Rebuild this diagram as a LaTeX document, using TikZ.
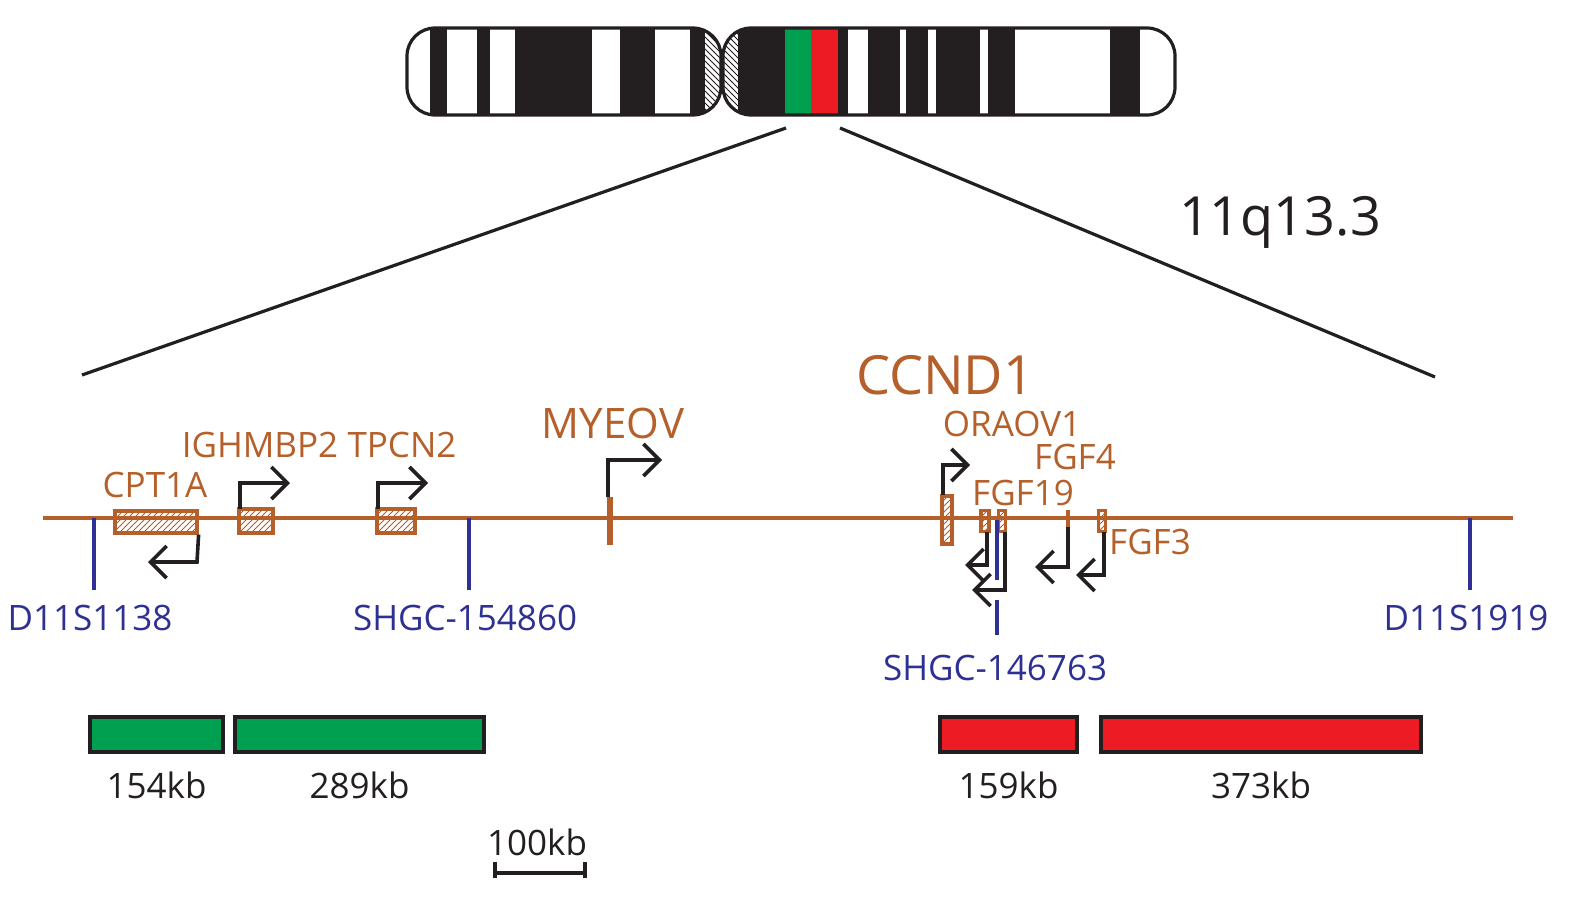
\documentclass[tikz,border=0pt]{standalone}
\usepackage{fontspec}
\setmainfont{Open Sans}
\usetikzlibrary{arrows.meta, patterns, positioning}
\definecolor{gene}{HTML}{B5602B}
\definecolor{marker}{HTML}{2E3192}
\definecolor{gbar}{HTML}{00A050}
\definecolor{rbar}{HTML}{ED1C24}
\definecolor{band}{HTML}{231F20}
\tikzset{
  glabel/.style={text=gene, font=\fontsize{17.5}{17.5}\selectfont, inner sep=0pt},
  mlabel/.style={text=marker, font=\fontsize{17.5}{17.5}\selectfont, inner sep=0pt},
  klabel/.style={text=band, font=\fontsize{17.5}{17.5}\selectfont, inner sep=0pt},
  gbox/.style={draw=gene, line width=1.6pt, pattern=north east lines, pattern color=gene},
  tss/.style={-{Straight Barb[length=8pt,width=16pt,line width=1.8pt]}, line width=1.8pt, draw=band},
  mline/.style={draw=marker, line width=1.8pt},
  seg/.style={draw=band, line width=1.6pt},
}
\begin{document}
\begin{tikzpicture}[x=0.5pt, y=-0.5pt]
  \useasboundingbox (0,0) rectangle (1589,904);

  %% chromosome 11
  \begin{scope}
    \clip[rounded corners=14pt] (407,28) rectangle (721,115);
    \fill[white] (407,28) rectangle (721,115);
    \foreach \a/\b in {430/447, 477/490, 515/592, 620/655, 690/705}
      \fill[band] (\a,28) rectangle (\b,115);
    \fill[pattern=north west lines, pattern color=band] (705,28) rectangle (721,115);
  \end{scope}
  \begin{scope}
    \clip[rounded corners=14pt] (723,28) rectangle (1175,115);
    \fill[white] (723,28) rectangle (1175,115);
    \foreach \a/\b in {738/785, 838/848, 868/900, 906/928, 936/980, 988/1015, 1110/1140}
      \fill[band] (\a,28) rectangle (\b,115);
    \fill[gbar] (785,28) rectangle (811,115);
    \fill[rbar] (811,28) rectangle (838,115);
    \fill[pattern=north west lines, pattern color=band] (723,28) rectangle (738,115);
  \end{scope}
  \draw[seg, rounded corners=14pt] (407,28) rectangle (721,115);
  \draw[seg, rounded corners=14pt] (723,28) rectangle (1175,115);

  %% zoom lines
  \coordinate (zl) at (786,128);
  \coordinate (zr) at (840,128);
  \coordinate (ll) at (82,375);
  \coordinate (lr) at (1435,377);
  \draw[seg] (zl) -- (ll);
  \draw[seg] (zr) -- (lr);
  \node[klabel, font=\fontsize{27}{27}\selectfont] (band) at (1280,222) {11q13.3};

  %% genomic line
  \coordinate (gs) at (43,518);
  \coordinate (ge) at (1513,518);
  \draw[gene, line width=1.8pt] (gs) -- (ge);

  %% markers
  \foreach \x/\y/\n/\t in {94/618/m1/D11S1138, 469/618/m2/SHGC-154860, 1470/618/m4/D11S1919}{
    \coordinate (\n top) at (\x,518);
    \node[mlabel] (\n) at (\x-4,\y) {\t};
    \draw[mline] (\n top) -- (\x,590);
  }

  %% genes
  \node[gbox, minimum width=41pt, minimum height=11pt, inner sep=0pt] (cpt) at (156,522) {};
  \node[glabel] at (155,485) {CPT1A};
  \coordinate (cptA) at (148,562);
  \draw[tss] (cpt.south east) -- (197,562) -- (cptA);

  \node[gbox, minimum width=17pt, minimum height=12pt, inner sep=0pt] (igh) at (256,521) {};
  \node[glabel] at (260,445) {IGHMBP2};
  \coordinate (ighA) at (290,483);
  \draw[tss] (240,509) -- (240,483) -- (ighA);

  \node[gbox, minimum width=19pt, minimum height=12pt, inner sep=0pt] (tpc) at (396,521) {};
  \node[glabel] at (402,445) {TPCN2};
  \coordinate (tpcA) at (428,483);
  \draw[tss] (378,509) -- (378,483) -- (tpcA);

  \node[fill=gene, minimum width=3pt, minimum height=24pt, inner sep=0pt] (myeov) at (610,521) {};
  \node[glabel, font=\fontsize{21}{21}\selectfont] at (613,423) {MYEOV};
  \coordinate (myA) at (662,460);
  \draw[tss] (608,497) -- (608,460) -- (myA);

  \node[gbox, line width=2.4pt, minimum width=5pt, minimum height=24pt, inner sep=0pt] (ccnd) at (947,520) {};
  \node[glabel, font=\fontsize{27}{27}\selectfont] at (945,375) {CCND1};
  \coordinate (ccA) at (970,465);
  \draw[tss] (943,495) -- (943,465) -- (ccA);

  \node[glabel] at (1012,424) {ORAOV1};
  \node[glabel] at (1023,493) {FGF19};
  \node[glabel] at (1075,457) {FGF4};
  \node[glabel] at (1150,542) {FGF3};

  \node[gbox, minimum width=4pt, minimum height=10.5pt, inner sep=0pt] (f19a) at (985,521) {};
  \node[gbox, minimum width=3.5pt, minimum height=10.5pt, inner sep=0pt] (f19b) at (1002,521) {};
  \node[gbox, minimum width=3.5pt, minimum height=10.5pt, inner sep=0pt] (f3) at (1102,521) {};
  \coordinate (f4) at (1068,510);

  \draw[gene, line width=1.8pt] (f4) -- (1068,527);
  \coordinate (f19aA) at (965,565);
  \coordinate (f19bA) at (972,590);
  \coordinate (f4A) at (1035,567);
  \coordinate (f3A) at (1076,575);
  \draw[tss] (987,532) -- (987,565) -- (f19aA);
  \draw[tss] (f4) ++(0,17) -- (1068,567) -- (f4A);
  \draw[tss] (1104,532) -- (1104,575) -- (f3A);

  %% marker inside the FGF19 cluster
  \coordinate (m3top) at (997,520);
  \node[mlabel] (m3) at (995,668) {SHGC-146763};
  \draw[mline] (m3top) -- (997,580);
  \draw[mline] (997,600) -- (997,635);
  \draw[tss] (1005,532) -- (1005,590) -- (f19bA);

  %% deletion bars
  \foreach \a/\b/\c/\n/\t in {90/223/gbar/b1/154kb, 235/484/gbar/b2/289kb,
                               940/1077/rbar/b3/159kb, 1101/1421/rbar/b4/373kb}{
    \fill[\c, draw=band, line width=1.6pt] (\a,717) rectangle (\b,752);
    \node[klabel] (\n) at ({(\a+\b)/2},785) {\t};
  }

  %% scale bar
  \node[klabel] (scale) at (537,842) {100kb};
  \draw[seg] (495,862) -- (495,878) (495,873) -- (585,873) (585,862) -- (585,878);
\end{tikzpicture}
\end{document}
